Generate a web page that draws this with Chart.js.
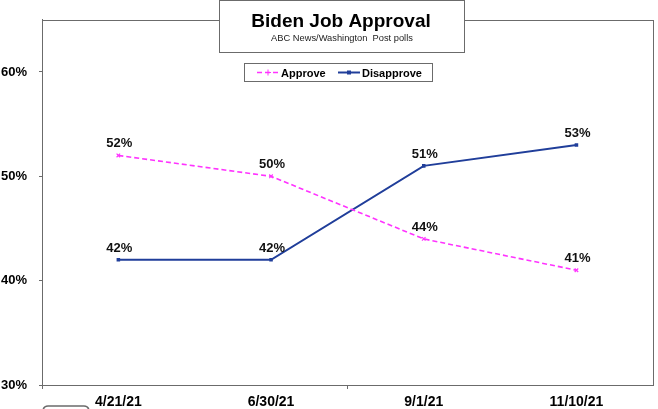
<!DOCTYPE html>
<html>
<head>
<meta charset="utf-8">
<script src="https://cdn.jsdelivr.net/npm/chart.js@4.4.1/dist/chart.umd.min.js"></script>
<style>
  body { margin: 0; background: #fff; }
  canvas { display: block; }
</style>
</head>
<body>
<canvas id="chart" width="658" height="409"></canvas>
<script>
// dates of the polls
const pollDates = ['4/21/21', '6/30/21', '9/1/21', '11/10/21'];
// percentages
const approveValues = [52, 50, 44, 41];
const disapproveValues = [42, 42, 51, 53];
const yTickValues = [30, 40, 50, 60];

const chartTitle = 'Biden Job Approval';
const chartSubtitle = 'ABC News/Washington  Post polls';

const approveColor = '#FF33FF';
const disapproveColor = '#203E9A';
const borderGray = '#6b6b6b';
const fontFam = '"Liberation Sans", Arial, sans-serif';

// frame around the plot area + title box + legend box
const decorPlugin = {
    id: 'decor',
    beforeDatasetsDraw(chart) {
        const ctx = chart.ctx;
        const a = chart.chartArea;
        ctx.save();
        ctx.strokeStyle = borderGray;
        ctx.lineWidth = 1;
        ctx.strokeRect(Math.round(a.left) + 0.5, Math.round(a.top) + 0.5,
            Math.round(a.right - a.left), Math.round(a.bottom - a.top));
        ctx.restore();
    },
    afterDatasetsDraw(chart) {
        const ctx = chart.ctx;
        ctx.save();
        // value labels above every point
        ctx.font = 'bold 13px ' + fontFam;
        ctx.fillStyle = '#111';
        ctx.textAlign = 'center';
        ctx.textBaseline = 'alphabetic';
        chart.data.datasets.forEach((ds, i) => {
            const meta = chart.getDatasetMeta(i);
            meta.data.forEach((pt, j) => {
                ctx.fillText(ds.data[j] + '%', pt.x + 1, pt.y - 8);
            });
        });

        // title box
        ctx.fillStyle = '#fff';
        ctx.fillRect(219, 0, 245, 52);
        ctx.strokeStyle = borderGray;
        ctx.strokeRect(219.5, 0.5, 245, 52);
        ctx.fillStyle = '#000';
        ctx.font = 'bold 19px ' + fontFam;
        ctx.fillText(chartTitle, 341, 27);
        ctx.font = '9.3px ' + fontFam;
        ctx.fillStyle = '#222';
        ctx.fillText(chartSubtitle, 342, 41);

        // legend box
        ctx.fillStyle = '#fff';
        ctx.fillRect(244, 63, 188, 18);
        ctx.strokeStyle = borderGray;
        ctx.strokeRect(244.5, 63.5, 188, 18);
        ctx.font = 'bold 11px ' + fontFam;
        ctx.textAlign = 'left';
        ctx.textBaseline = 'middle';
        const items = [
            { x: 257, ds: chart.data.datasets[0] },
            { x: 338, ds: chart.data.datasets[1] }
        ];
        items.forEach(it => {
            const ly = 72.5;
            ctx.strokeStyle = it.ds.borderColor;
            ctx.lineWidth = it.ds.borderWidth;
            ctx.setLineDash(it.ds.borderDash || []);
            ctx.beginPath();
            ctx.moveTo(it.x, ly);
            ctx.lineTo(it.x + 22, ly);
            ctx.stroke();
            ctx.setLineDash([]);
            ctx.fillStyle = it.ds.borderColor;
            if (it.ds.pointStyle === 'rect') {
                ctx.fillRect(it.x + 9, ly - 2, 4, 4);
            } else {
                ctx.lineWidth = 1;
                ctx.beginPath();
                ctx.moveTo(it.x + 8, ly); ctx.lineTo(it.x + 14, ly);
                ctx.moveTo(it.x + 11, ly - 3); ctx.lineTo(it.x + 11, ly + 3);
                ctx.stroke();
            }
            ctx.fillStyle = '#000';
            ctx.fillText(it.ds.label, it.x + 24, ly + 1);
        });

        // cut-off shape at the bottom left edge
        ctx.strokeStyle = borderGray;
        ctx.lineWidth = 1.5;
        ctx.beginPath();
        ctx.moveTo(43, 410);
        ctx.quadraticCurveTo(44, 406, 48, 406);
        ctx.lineTo(84, 406);
        ctx.quadraticCurveTo(88, 406, 89, 410);
        ctx.stroke();
        ctx.restore();
    }
};

const ctx = document.getElementById('chart').getContext('2d');
new Chart(ctx, {
    type: 'line',
    data: {
        labels: pollDates,
        datasets: [{
            label: 'Approve',
            data: approveValues,
            borderColor: approveColor,
            backgroundColor: approveColor,
            borderWidth: 1.6,
            borderDash: [5, 3],
            pointStyle: 'crossRot',
            pointRadius: 2.5,
            pointBorderWidth: 1.2,
            tension: 0
        }, {
            label: 'Disapprove',
            data: disapproveValues,
            borderColor: disapproveColor,
            backgroundColor: disapproveColor,
            borderWidth: 2,
            pointStyle: 'rect',
            pointRadius: 2.5,
            pointBorderWidth: 0,
            tension: 0
        }]
    },
    options: {
        responsive: false,
        animation: false,
        layout: { padding: { top: 18, right: 4, left: 0, bottom: 0 } },
        plugins: {
            legend: { display: false },
            tooltip: { enabled: false }
        },
        scales: {
            x: {
                offset: true,
                grid: {
                    offset: true,
                    drawOnChartArea: false,
                    tickLength: 4,
                    // only every other boundary gets a tick mark
                    color: c => (c.index % 2 === 0 ? borderGray : 'rgba(0,0,0,0)')
                },
                border: { color: borderGray },
                ticks: {
                    color: '#000',
                    padding: 5,
                    font: { family: fontFam, size: 14, weight: 'bold' }
                },
                afterFit(scale) { scale.height = 24; }
            },
            y: {
                min: 30,
                max: 65,
                grid: {
                    drawOnChartArea: false,
                    tickLength: 3,
                    color: borderGray
                },
                border: { color: borderGray },
                afterBuildTicks(scale) {
                    scale.ticks = yTickValues.map(v => ({ value: v }));
                },
                ticks: {
                    color: '#000',
                    padding: 12,
                    callback: v => v + '%',
                    font: { family: fontFam, size: 13, weight: 'bold' }
                },
                afterFit(scale) { scale.width = 42; }
            }
        }
    },
    plugins: [decorPlugin]
});
</script>
</body>
</html>
